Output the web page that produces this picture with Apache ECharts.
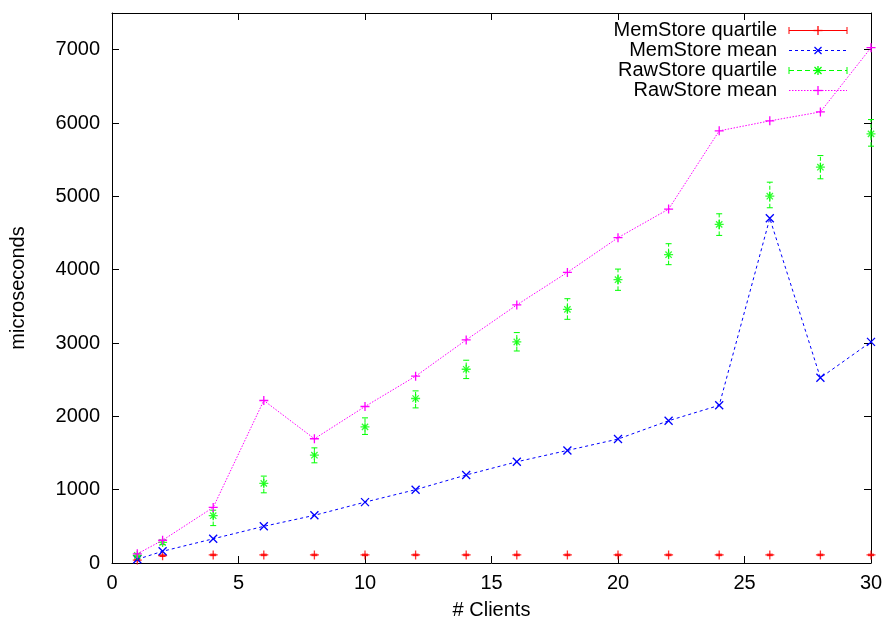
<!DOCTYPE html>
<html>
<head>
<meta charset="utf-8">
<script src="https://cdn.jsdelivr.net/npm/echarts@6/dist/echarts.min.js"></script>
<style>
  html, body { margin: 0; padding: 0; background: #fff; }
  #chart { width: 883px; height: 620px; }
</style>
</head>
<body>
<div id="chart"></div>
<script>
// 数据
var clients = [1, 2, 4, 6, 8, 10, 12, 14, 16, 18, 20, 22, 24, 26, 28, 30];
var memMean = [50, 160, 330, 500, 650, 830, 1000, 1200, 1380, 1535, 1690, 1940, 2150, 4700, 2525, 3015];
var memQuartile = [40, 100, 110, 110, 110, 110, 110, 110, 110, 110, 110, 110, 110, 110, 110, 110];
var memQuartileLow = [30, 90, 100, 100, 100, 100, 100, 100, 100, 100, 100, 100, 100, 100, 100, 100];
var memQuartileHigh = [50, 110, 120, 120, 120, 120, 120, 120, 120, 120, 120, 120, 120, 120, 120, 120];
var rawMean = [125, 310, 758, 2216, 1694, 2134, 2547, 3042, 3519, 3963, 4436, 4826, 5893, 6029, 6151, 7027];
var rawQuartile = [105, 280, 645, 1085, 1470, 1856, 2243, 2642, 3014, 3459, 3863, 4204, 4617, 5002, 5397, 5852];
var rawQuartileLow = [85, 250, 510, 957, 1366, 1753, 2115, 2515, 2891, 3323, 3718, 4068, 4467, 4844, 5239, 5684];
var rawQuartileHigh = [125, 310, 720, 1185, 1570, 1979, 2347, 2765, 3142, 3604, 4008, 4354, 4762, 5193, 5556, 6047];
var yTicks = [0, 1000, 2000, 3000, 4000, 5000, 6000, 7000];
var xTicks = [0, 5, 10, 15, 20, 25, 30];

var font = 'Liberation Sans, Arial, Helvetica, sans-serif';
var RED = '#ff0000', BLUE = '#0000ff', GREEN = '#00ff00', MAGENTA = '#ff00ff';

var PLUS = 'path://M5,0L5,10M0,5L10,5';
var CROSS = 'path://M0,0L10,10M10,0L0,10';
var STAR = 'path://M5,0L5,10M0,5L10,5M1.5,1.5L8.5,8.5M8.5,1.5L1.5,8.5';

function zip(a, b) {
  return a.map(function (v, i) { return [v, b[i]]; });
}
function zip3(a, b, c) {
  return a.map(function (v, i) { return [v, b[i], c[i]]; });
}

function errorBars(color, dash) {
  return function (params, api) {
    var lo = api.coord([api.value(0), api.value(1)]);
    var hi = api.coord([api.value(0), api.value(2)]);
    var cap = 3;
    var st = { stroke: color, lineWidth: 1, lineDash: dash };
    return {
      type: 'group',
      children: [
        { type: 'line', shape: { x1: lo[0], y1: lo[1], x2: hi[0], y2: hi[1] }, style: st },
        { type: 'line', shape: { x1: lo[0] - cap, y1: lo[1], x2: lo[0] + cap, y2: lo[1] }, style: { stroke: color, lineWidth: 1 } },
        { type: 'line', shape: { x1: hi[0] - cap, y1: hi[1], x2: hi[0] + cap, y2: hi[1] }, style: { stroke: color, lineWidth: 1 } }
      ]
    };
  };
}

function symStyle(color) {
  return { color: 'rgba(0,0,0,0)', borderColor: color, borderWidth: 1.3 };
}

// 图例（gnuplot风格，文字在左，样例在右）
var legendRows = [
  { name: 'MemStore quartile', color: RED, dash: null, sym: 'plus', caps: true },
  { name: 'MemStore mean', color: BLUE, dash: [3, 3], sym: 'cross', caps: false },
  { name: 'RawStore quartile', color: GREEN, dash: [5, 3], sym: 'star', caps: true },
  { name: 'RawStore mean', color: MAGENTA, dash: [1.5, 1.5], sym: 'plus', caps: false }
];
function symbolLines(kind, cx, cy, color) {
  var r = 4.5, d = 3.5, out = [];
  var st = { stroke: color, lineWidth: 1.3 };
  if (kind === 'plus' || kind === 'star') {
    out.push({ type: 'line', shape: { x1: cx - r, y1: cy, x2: cx + r, y2: cy }, style: st });
    out.push({ type: 'line', shape: { x1: cx, y1: cy - r, x2: cx, y2: cy + r }, style: st });
  }
  if (kind === 'cross' || kind === 'star') {
    out.push({ type: 'line', shape: { x1: cx - d, y1: cy - d, x2: cx + d, y2: cy + d }, style: st });
    out.push({ type: 'line', shape: { x1: cx - d, y1: cy + d, x2: cx + d, y2: cy - d }, style: st });
  }
  return out;
}
var legendGraphic = [];
legendRows.forEach(function (row, i) {
  var y = 30.5 + i * 20;
  legendGraphic.push({
    type: 'text', x: 777, y: y,
    style: { text: row.name, font: '20px ' + font, fill: '#000', textAlign: 'right', textVerticalAlign: 'middle' }
  });
  legendGraphic.push({
    type: 'line', shape: { x1: 789, y1: y, x2: 847, y2: y },
    style: { stroke: row.color, lineWidth: 1, lineDash: row.dash }
  });
  if (row.caps) {
    legendGraphic.push({ type: 'line', shape: { x1: 789, y1: y - 3.5, x2: 789, y2: y + 3.5 }, style: { stroke: row.color, lineWidth: 1 } });
    legendGraphic.push({ type: 'line', shape: { x1: 847, y1: y - 3.5, x2: 847, y2: y + 3.5 }, style: { stroke: row.color, lineWidth: 1 } });
  }
  symbolLines(row.sym, 818, y, row.color).forEach(function (g) { legendGraphic.push(g); });
});

var axisText = { fontSize: 20, color: '#000', fontFamily: font };
var chart = echarts.init(document.getElementById('chart'), null, { renderer: 'canvas' });
chart.setOption({
  animation: false,
  backgroundColor: '#fff',
  grid: { left: 112, right: 12, top: 13, bottom: 57, containLabel: false, outerBoundsMode: 'none' },
  xAxis: [{
    type: 'value', min: xTicks[0], max: xTicks[xTicks.length - 1], interval: 5,
    name: '# Clients', nameLocation: 'middle', nameGap: 37,
    nameTextStyle: axisText,
    axisLine: { onZero: false, lineStyle: { color: '#000', width: 1 } },
    axisTick: { inside: true, length: 7, lineStyle: { color: '#000' } },
    axisLabel: { margin: 10, fontSize: 20, color: '#000', fontFamily: font },
    splitLine: { show: false }
  }, {
    type: 'value', position: 'top', min: xTicks[0], max: xTicks[xTicks.length - 1], interval: 5,
    axisLine: { show: true, onZero: false, lineStyle: { color: '#000', width: 1 } },
    axisTick: { inside: true, length: 7, lineStyle: { color: '#000' } },
    axisLabel: { show: false },
    splitLine: { show: false }
  }],
  yAxis: [{
    type: 'value', min: 0, max: 7500, interval: 1000,
    name: 'microseconds', nameLocation: 'middle', nameGap: 84,
    nameTextStyle: axisText,
    axisLine: { show: true, onZero: false, lineStyle: { color: '#000', width: 1 } },
    axisTick: { inside: true, length: 7, lineStyle: { color: '#000' } },
    axisLabel: {
      margin: 12, fontSize: 20, color: '#000', fontFamily: font,
      formatter: function (v) { return yTicks.indexOf(v) >= 0 ? String(v) : ''; }
    },
    splitLine: { show: false }
  }, {
    type: 'value', position: 'right', min: 0, max: 7500, interval: 1000,
    axisLine: { show: true, onZero: false, lineStyle: { color: '#000', width: 1 } },
    axisTick: { inside: true, length: 7, lineStyle: { color: '#000' } },
    axisLabel: { show: false },
    splitLine: { show: false }
  }],
  graphic: legendGraphic,
  series: [
    {
      name: 'MemStore quartile bars', type: 'custom',
      renderItem: errorBars(RED, null),
      encode: { x: 0, y: [1, 2] },
      data: zip3(clients, memQuartileLow, memQuartileHigh), z: 2
    },
    {
      name: 'MemStore quartile', type: 'scatter',
      symbol: PLUS, symbolSize: 9,
      itemStyle: symStyle(RED),
      data: zip(clients, memQuartile), z: 3
    },
    {
      name: 'MemStore mean', type: 'line',
      symbol: CROSS, symbolSize: 8, showAllSymbol: true,
      lineStyle: { color: BLUE, width: 1, type: [3, 3] },
      itemStyle: symStyle(BLUE),
      data: zip(clients, memMean), z: 4
    },
    {
      name: 'RawStore quartile bars', type: 'custom',
      renderItem: errorBars(GREEN, [4, 2]),
      encode: { x: 0, y: [1, 2] },
      data: zip3(clients, rawQuartileLow, rawQuartileHigh), z: 5
    },
    {
      name: 'RawStore quartile', type: 'scatter',
      symbol: STAR, symbolSize: 9,
      itemStyle: symStyle(GREEN),
      data: zip(clients, rawQuartile), z: 6
    },
    {
      name: 'RawStore mean', type: 'line',
      symbol: PLUS, symbolSize: 9, showAllSymbol: true,
      lineStyle: { color: MAGENTA, width: 1, type: [1.5, 1.5] },
      itemStyle: symStyle(MAGENTA),
      data: zip(clients, rawMean), z: 7
    }
  ]
});
</script>
</body>
</html>
